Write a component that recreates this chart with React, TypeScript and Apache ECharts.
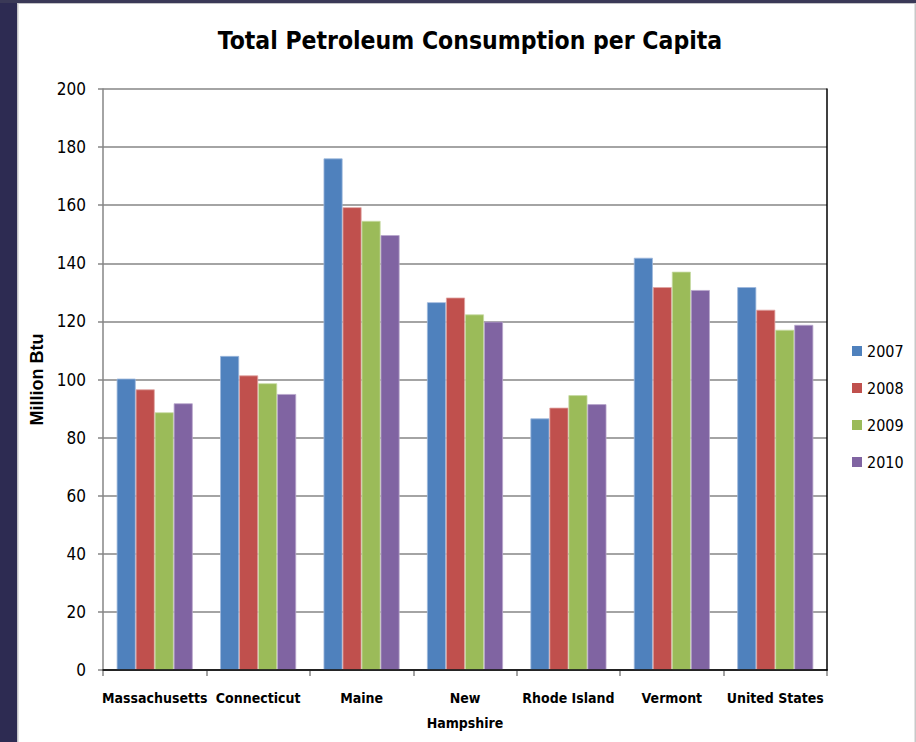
import React, { useEffect, useRef } from "react";
import * as echarts from "echarts";

const categories = [
  "Massachusetts",
  "Connecticut",
  "Maine",
  "New\nHampshire",
  "Rhode Island",
  "Vermont",
  "United States",
];
const years = ["2007", "2008", "2009", "2010"];
const values2007 = [100.3, 108.1, 176.1, 126.6, 86.6, 141.9, 131.8];
const values2008 = [96.6, 101.4, 159.3, 128.2, 90.3, 131.8, 124.0];
const values2009 = [88.7, 98.7, 154.6, 122.4, 94.6, 137.1, 117.1];
const values2010 = [91.8, 95.0, 149.7, 119.9, 91.5, 130.8, 118.8];
const yMin = 0;
const yMax = 200;
const yInterval = 20;

const seriesValues = [values2007, values2008, values2009, values2010];
const colors = ["#4F81BD", "#C0504D", "#9BBB59", "#8064A2"];
const edgeColors = ["#9DB8DC", "#E0A3A1", "#C7DBA3", "#B8A6CC"];

const NARROW = "'Liberation Sans Narrow', 'DejaVu Sans Condensed', 'Liberation Sans', sans-serif";
const AXIS_GREY = "#868686";

export default function App() {
  const ref = useRef<HTMLDivElement>(null);

  useEffect(() => {
    if (!ref.current) return;
    const chart = echarts.init(ref.current, null, { renderer: "svg" });
    const option: any = {
      animation: false,
      backgroundColor: "#ffffff",
      title: {
        text: "Total Petroleum Consumption per Capita",
        left: 465,
        top: 23,
        textAlign: "center",
        textStyle: {
          fontFamily: NARROW,
          fontWeight: "bold",
          fontSize: 24.5,
          color: "#000",
        },
      },
      graphic: [
        { type: "rect", shape: { x: 0, y: 0, width: 17, height: 742 }, style: { fill: "#2d2b52" }, z: 100 },
        { type: "rect", shape: { x: 17, y: 0, width: 1.5, height: 742 }, style: { fill: "#c4c4c8" }, z: 100 },
        { type: "rect", shape: { x: 0, y: 0, width: 916, height: 3 }, style: { fill: "#3a3957" }, z: 100 },
        { type: "rect", shape: { x: 17, y: 3, width: 899, height: 1 }, style: { fill: "#c4c4c8" }, z: 100 },
        { type: "rect", shape: { x: 914.5, y: 3, width: 1.5, height: 739 }, style: { fill: "#c8c8c8" }, z: 100 },
      ],
      legend: {
        orient: "vertical",
        left: 847,
        top: 336,
        itemWidth: 10,
        itemHeight: 10,
        itemGap: 17,
        icon: "rect",
        data: years,
        itemStyle: { borderWidth: 0 },
        textStyle: {
          fontFamily: NARROW,
          fontSize: 16,
          color: "#000",
          lineHeight: 20,
        },
      },
      grid: {
        left: 103,
        right: 89,
        top: 89,
        bottom: 72,
        containLabel: false,
      },
      xAxis: [
        {
          type: "category",
          data: categories,
          position: "bottom",
          axisLine: { lineStyle: { color: AXIS_GREY, width: 1.5 } },
          axisTick: { show: true, length: 6, lineStyle: { color: AXIS_GREY, width: 1.5 } },
          axisLabel: {
            interval: 0,
            margin: 15,
            fontFamily: NARROW,
            fontWeight: "bold",
            fontSize: 14,
            lineHeight: 25,
            color: "#000",
          },
        },
        {
          type: "category",
          data: categories,
          position: "top",
          z: 10,
          axisLine: { lineStyle: { color: "#000", width: 1.5 } },
          axisTick: { show: false },
          axisLabel: { show: false },
        },
      ],
      yAxis: [
        {
          type: "value",
          min: yMin,
          max: yMax,
          interval: yInterval,
          name: "Million Btu",
          nameLocation: "middle",
          nameGap: 40,
          nameRotate: 90,
          nameTextStyle: {
            fontFamily: "'Liberation Sans', Arial, sans-serif",
            fontWeight: "bold",
            fontSize: 18,
            color: "#000",
          },
          axisLine: { show: true, lineStyle: { color: AXIS_GREY, width: 1.5 } },
          axisTick: { show: true, length: 5, lineStyle: { color: AXIS_GREY, width: 1.5 } },
          axisLabel: {
            margin: 17,
            fontFamily: NARROW,
            fontSize: 17,
            color: "#000",
          },
          splitLine: { show: true, lineStyle: { color: AXIS_GREY, width: 1.5 } },
        },
        {
          type: "value",
          min: yMin,
          max: yMax,
          interval: yInterval,
          position: "right",
          z: 10,
          axisLine: { show: true, lineStyle: { color: "#000", width: 1.5 } },
          axisTick: { show: false },
          axisLabel: { show: false },
          splitLine: { show: false },
        },
      ],
      series: years.map((year, i) => ({
        name: year,
        type: "bar",
        xAxisIndex: 0,
        yAxisIndex: 0,
        data: seriesValues[i],
        barGap: "0%",
        barCategoryGap: "26.5%",
        itemStyle: {
          color: colors[i],
          borderColor: edgeColors[i],
          borderWidth: 0.8,
        },
      })),
    };
    chart.setOption(option);
    return () => chart.dispose();
  }, []);

  return (
    <div
      ref={ref}
      style={{ position: "absolute", left: 0, top: 0, width: 916, height: 742 }}
    />
  );
}
